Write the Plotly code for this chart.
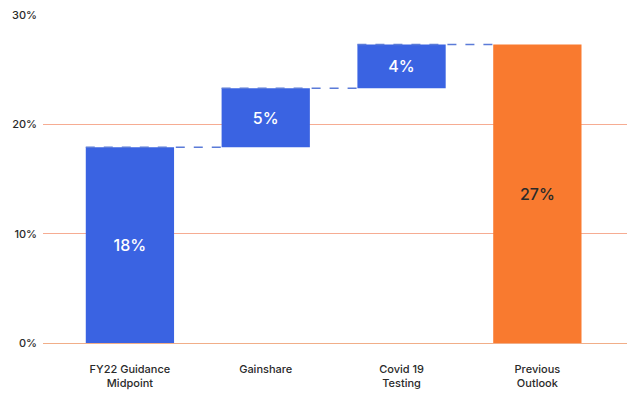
import plotly.graph_objects as go

categories = ["FY22 Guidance<br>Midpoint", "Gainshare", "Covid 19<br>Testing", "Previous<br>Outlook"]
values = [17.9, 5.4, 4.0, 27.3]
labels = ["18%", "5%", "4%", "27%"]
measures = ["absolute", "relative", "relative", "total"]

BLUE = "#3A63E2"
ORANGE = "#F97A2F"
bar_width = 0.65

# compute bases and heights from the data
bases, heights = [], []
running = 0.0
for v, m in zip(values, measures):
    if m == "relative":
        bases.append(running)
        heights.append(v)
        running += v
    else:
        bases.append(0)
        heights.append(v)
        running = v

colors = [ORANGE if m == "total" else BLUE for m in measures]
text_colors = ["#2a2a2a" if m == "total" else "white" for m in measures]

fig = go.Figure()
fig.add_trace(go.Bar(
    x=list(range(len(categories))), y=heights, base=bases,
    width=bar_width,
    marker=dict(color=colors, line=dict(width=0)),
    text=labels, textposition="inside", insidetextanchor="middle",
    textfont=dict(size=16, color=text_colors, family="Inter", weight=500),
    hoverinfo="skip", showlegend=False,
))

# dashed connectors from each bar's top to the next bar
for i in range(len(values) - 1):
    top = bases[i] + heights[i]
    fig.add_shape(type="line", xref="x", yref="y",
                  x0=i - bar_width / 2, x1=i + 1 - bar_width / 2,
                  y0=top, y1=top,
                  line=dict(color="#5B7BD8", width=1.5, dash="dash"),
                  layer="above")

fig.update_layout(
    width=627, height=394,
    margin=dict(l=43, r=0, t=15, b=51),
    paper_bgcolor="white", plot_bgcolor="white",
    font=dict(family="Inter", color="#2a2a2a", size=11),
    bargap=0.35,
)
fig.update_xaxes(
    tickmode="array", tickvals=list(range(len(categories))), ticktext=categories,
    range=[-0.64, 3.66], showgrid=False, zeroline=False, showline=False,
    ticks="", ticklabelstandoff=18,
    tickfont=dict(size=11, color="#2a2a2a", family="Inter", weight=500),
)
fig.update_yaxes(
    range=[0, 30], tickvals=[0, 10, 20, 30], ticktext=["0%", "10%", "20%", "30%"],
    showgrid=True, gridcolor="#F6AC92", gridwidth=1,
    zeroline=True, zerolinecolor="#F1AE88", zerolinewidth=1,
    showline=False, ticks="", ticklabelstandoff=5,
    tickfont=dict(size=11, color="#2a2a2a", family="Inter", weight=500),
)

fig.write_html("out.html")
